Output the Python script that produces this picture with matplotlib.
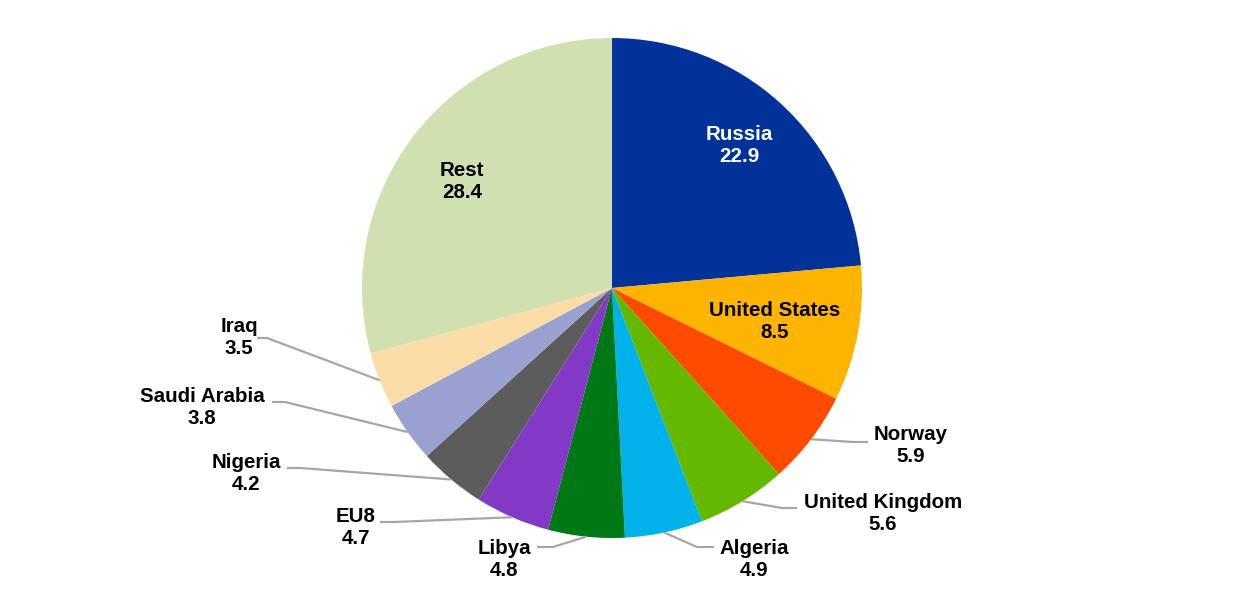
import numpy as np
import matplotlib
matplotlib.use("Agg")
import matplotlib.pyplot as plt

countries = ["Russia", "United States", "Norway", "United Kingdom", "Algeria",
             "Libya", "EU8", "Nigeria", "Saudi Arabia", "Iraq", "Rest"]
shares = [22.9, 8.5, 5.9, 5.6, 4.9, 4.8, 4.7, 4.2, 3.8, 3.5, 28.4]
colors = ["#003299", "#FFB400", "#FF4B00", "#65B800", "#00B1EA", "#007816",
          "#8139C6", "#5C5C5C", "#98A1D0", "#FDDDA7", "#D1E0B0"]

W, H = 1240, 590
CX, CY, R = 612, 288, 250   # pixel layout, y measured from top


def px(x, y):
    return x, H - y


# label block centres (pixels, y from top); inside labels have no leader
label_pos = {
    "Russia": (739, 146), "United States": (775, 322), "Rest": (462, 181),
    "Norway": (911, 446), "United Kingdom": (883, 513), "Algeria": (754, 560),
    "Libya": (504, 560), "EU8": (356, 528), "Nigeria": (246, 474),
    "Saudi Arabia": (202, 407), "Iraq": (239, 337),
}
# leader elbow and end points (pixels)
leaders = {
    "Norway": [(853, 442), (868, 442)],
    "United Kingdom": [(782, 508), (797, 508)],
    "Algeria": [(697, 547), (714, 547)],
    "Libya": [(553, 547), (537, 547)],
    "EU8": [(394, 522), (380, 522)],
    "Nigeria": [(300, 468), (287, 468)],
    "Saudi Arabia": [(285, 402), (272, 402)],
    "Iraq": [(267, 338), (257, 338)],
}

fig = plt.figure(figsize=(12.4, 5.9), dpi=100)
ax = fig.add_axes([0, 0, 1, 1])

wedges, _ = ax.pie(shares, colors=colors, startangle=90, counterclock=False,
                   radius=R, center=px(CX, CY),
                   wedgeprops=dict(linewidth=0))

ax.set_xlim(0, W)
ax.set_ylim(0, H)
ax.set_aspect("equal")
ax.axis("off")

for w, name, val in zip(wedges, countries, shares):
    txt_color = "white" if name == "Russia" else "black"
    lx, ly = px(*label_pos[name])
    ax.text(lx, ly, f"{name}\n{val:.1f}", ha="center", va="center",
            multialignment="center", fontsize=14.8, fontweight="bold",
            family="Liberation Sans", color=txt_color, linespacing=1.2)
    if name in leaders:
        mid = np.deg2rad((w.theta1 + w.theta2) / 2)
        x0 = w.center[0] + R * np.cos(mid)
        y0 = w.center[1] + R * np.sin(mid)
        pts = [(x0, y0)] + [px(*p) for p in leaders[name]]
        xs, ys = zip(*pts)
        ax.plot(xs, ys, color="#A6A6A6", linewidth=1.6, solid_capstyle="butt")

fig.savefig("out.png", dpi=100)
